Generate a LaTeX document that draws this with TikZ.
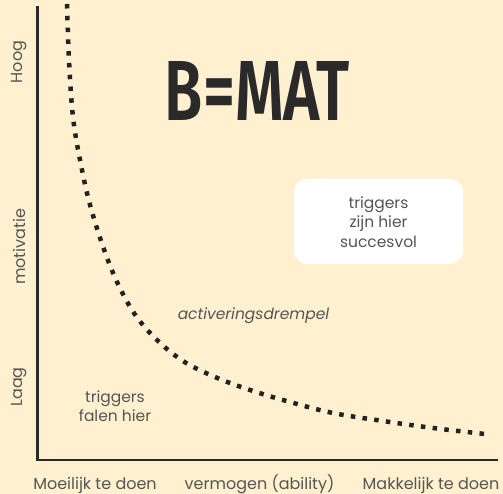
\documentclass[tikz,border=0pt]{standalone}
\usepackage{fontspec}
\setmainfont{Poppins}
\newfontfamily\titlefont{Fira Sans SemiBold}
\definecolor{bgyellow}{HTML}{FFF1CF}
\definecolor{axisgray}{HTML}{2A2A2A}
\definecolor{txtgray}{HTML}{555555}
\definecolor{dotblack}{HTML}{222222}
\tikzset{
  lbl/.style={text=txtgray, font=\fontsize{16}{19}\selectfont, inner sep=0pt},
  boxlbl/.style={lbl, font=\fontsize{15.5}{19.5}\selectfont, align=center},
  axisline/.style={draw=axisgray, line width=2.6pt},
  threshold/.style={draw=dotblack, line width=4.5pt, dash pattern=on 4.5pt off 7.3pt},
  whitebox/.style={fill=white, rounded corners=13pt, draw=none}
}
\begin{document}
\begin{tikzpicture}[x=1pt,y=-1pt]
\useasboundingbox[fill=bgyellow] (0,0) rectangle (503,494);
% axes
\coordinate (ytop) at (37.5,6);
\coordinate (orig) at (37.5,460);
\coordinate (xend) at (498,460);
\draw[axisline] (ytop) -- (orig) -- (xend);
% threshold curve
\draw[threshold] plot[smooth, tension=0.6] coordinates {(67,4) (69,60) (73,117) (81,165) (92,212) (111,268) (132,310) (155,338) (183,361) (215,377) (250,390) (290,402) (333,413) (383,421) (433,428) (485,434)};
% title
\node[text=axisgray, inner sep=0pt] (title) at (257.5,90.5) {\resizebox{185pt}{59pt}{\titlefont B=MAT}};
% white box
\node[whitebox, minimum width=169pt, minimum height=85pt] (succ) at (378.5,221.5) {};
\node[boxlbl] (succtxt) at (378.5,222) {triggers\\zijn hier\\succesvol};
% labels
\node[lbl, font=\fontsize{15.5}{19}\selectfont\itshape] (act) at (253.5,316) {activeringsdrempel};
\node[boxlbl] (fail) at (115,406) {triggers\\falen hier};
\node[lbl, rotate=90] (hoog) at (19,62) {Hoog};
\node[lbl, rotate=90] (motiv) at (19,247) {motivatie};
\node[lbl, rotate=90] (laag) at (19,387) {Laag};
\node[lbl, anchor=base] (moei) at (95,489) {Moeilijk te doen};
\node[lbl, anchor=base] (verm) at (259.5,489) {vermogen (ability)};
\node[lbl, anchor=base] (makk) at (431,489) {Makkelijk te doen};
\end{tikzpicture}
\end{document}
